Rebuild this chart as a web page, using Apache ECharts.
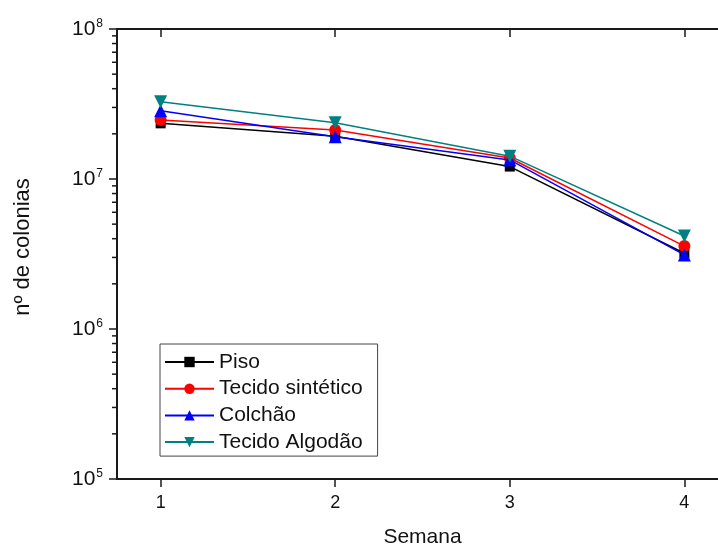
<!DOCTYPE html>
<html>
<head>
<meta charset="utf-8">
<script src="https://cdn.jsdelivr.net/npm/echarts@6/dist/echarts.min.js"></script>
<style>
html,body{margin:0;padding:0;background:#fff;}
#c{width:718px;height:545px;}
</style>
</head>
<body>
<div id="c"></div>
<script>
const weeks = [1, 2, 3, 4];
const seriesNames = ['Piso', 'Tecido sintético', 'Colchão', 'Tecido Algodão'];
const piso = [2.35e7, 1.93e7, 1.21e7, 3.2e6];
const tecidoSintetico = [2.47e7, 2.12e7, 1.38e7, 3.57e6];
const colchao = [2.85e7, 1.91e7, 1.34e7, 3.12e6];
const tecidoAlgodao = [3.27e7, 2.37e7, 1.42e7, 4.17e6];
const xTickValues = [1, 2, 3, 4];
const yDecades = [5, 6, 7, 8];
const minorMultipliers = [2, 3, 4, 5, 6, 7, 8, 9];

const colors = ['#000000', '#ff0000', '#0000ff', '#008080'];
const symbols = ['rect', 'circle', 'triangle', 'path://M0,0 L10,0 L5,9 Z'];
const symbolSizes = [10, 12, 13, 13];
const allValues = [piso, tecidoSintetico, colchao, tecidoAlgodao];

const xMin = 0.75, xMax = 4.25;
const axisColor = '#1a1a1a';
const font = 'Liberation Sans, Arial';

const minorData = [];
for (let i = 0; i < yDecades.length - 1; i++) {
  for (const m of minorMultipliers) minorData.push([xMin, m * Math.pow(10, yDecades[i])]);
}

const lineSeries = seriesNames.map((name, i) => ({
  name: name,
  type: 'line',
  data: weeks.map((w, j) => [w, allValues[i][j]]),
  symbol: symbols[i],
  symbolSize: symbolSizes[i],
  lineStyle: { color: colors[i], width: 1.5 },
  itemStyle: { color: colors[i] },
  color: colors[i],
  z: 3 + i
}));

const chart = echarts.init(document.getElementById('c'), null, { renderer: 'canvas' });
chart.setOption({
  animation: false,
  backgroundColor: '#fff',
  grid: { left: 117, right: -10, top: 29, bottom: 66, containLabel: false, outerBoundsMode: 'none' },
  legend: {
    data: seriesNames,
    orient: 'vertical',
    left: 160,
    top: 344,
    backgroundColor: '#fff',
    borderColor: '#444',
    borderWidth: 1,
    padding: [7, 15, 3, 4],
    itemWidth: 49,
    itemHeight: 13,
    itemGap: 4.7,
    textStyle: { fontFamily: font, fontSize: 21, lineHeight: 22, color: '#111' }
  },
  xAxis: [{
    type: 'value',
    min: xMin, max: xMax, interval: 0.25,
    name: 'Semana',
    nameLocation: 'middle',
    nameGap: 48,
    nameTextStyle: { fontFamily: font, fontSize: 21, color: '#111' },
    axisLine: { show: true, onZero: false, lineStyle: { color: axisColor, width: 2 } },
    axisTick: { show: true, customValues: xTickValues, length: 8, inside: false, lineStyle: { color: axisColor, width: 1.5 } },
    axisLabel: { customValues: xTickValues, margin: 15, fontFamily: font, fontSize: 18, color: '#111' },
    splitLine: { show: false }
  }, {
    type: 'value',
    position: 'top',
    min: xMin, max: xMax, interval: 0.25,
    axisLine: { show: true, onZero: false, lineStyle: { color: axisColor, width: 2 } },
    axisTick: { show: true, customValues: xTickValues, length: 8, inside: true, lineStyle: { color: axisColor, width: 1.5 } },
    axisLabel: { show: false },
    splitLine: { show: false }
  }],
  yAxis: {
    type: 'log',
    logBase: 10,
    min: 1e5, max: 1e8,
    name: 'nº de colonias',
    nameLocation: 'middle',
    nameGap: 83,
    nameRotate: 90,
    nameTextStyle: { fontFamily: font, fontSize: 22, color: '#111', padding: [0, 0, 0, 14] },
    axisLine: { show: true, onZero: false, lineStyle: { color: axisColor, width: 2 } },
    axisTick: { show: true, length: 8, inside: false, lineStyle: { color: axisColor, width: 1.5 } },
    axisLabel: {
      margin: 14,
      formatter: function (v) {
        const e = Math.round(Math.log10(v));
        return '{b|10}{s|' + e + '}';
      },
      rich: {
        b: { fontFamily: font, fontSize: 21, color: '#111', verticalAlign: 'bottom', lineHeight: 22 },
        s: { fontFamily: font, fontSize: 12, color: '#111', verticalAlign: 'top', lineHeight: 22, padding: [0, 0, 12, 1] }
      }
    },
    splitLine: { show: false }
  },
  series: lineSeries.concat([{
    type: 'custom',
    name: 'minorTicks',
    silent: true,
    clip: false,
    z: 10,
    data: minorData,
    renderItem: function (params, api) {
      const p = api.coord([api.value(0), api.value(1)]);
      return {
        type: 'line',
        shape: { x1: p[0] - 5, y1: p[1], x2: p[0], y2: p[1] },
        style: { stroke: axisColor, lineWidth: 1.5 }
      };
    }
  }])
});
</script>
</body>
</html>
